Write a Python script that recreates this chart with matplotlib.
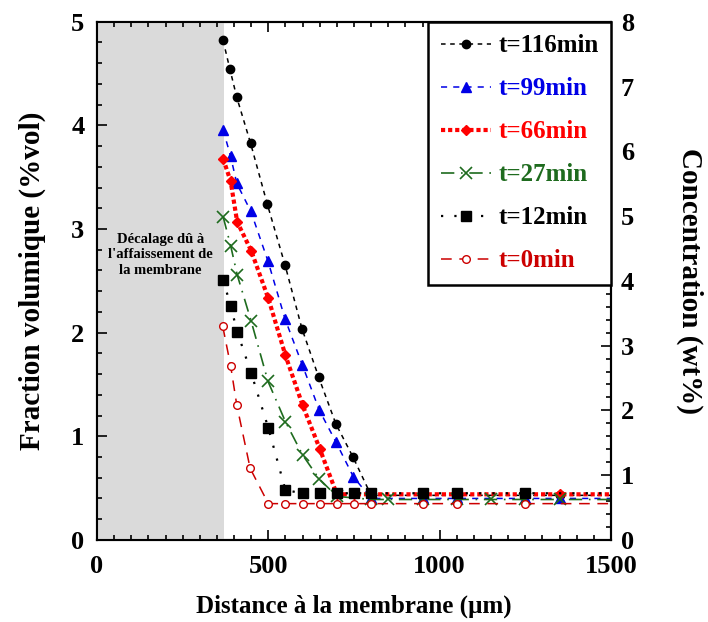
import matplotlib
matplotlib.use("Agg")
import matplotlib.pyplot as plt
from matplotlib.ticker import MultipleLocator

plt.rcParams["font.family"] = ["Liberation Serif", "DejaVu Serif"]
plt.rcParams["font.weight"] = "bold"

# Data (distance in um, fraction in %vol)
x_116 = [368, 388, 408, 448, 497, 549, 598, 647, 697, 747, 800, 950, 1050, 1250, 1350, 1550]
y_116 = [4.82, 4.54, 4.27, 3.83, 3.24, 2.65, 2.04, 1.57, 1.12, 0.80, 0.43, 0.43, 0.43, 0.43, 0.43, 0.43]

x_99 = [368, 390, 408, 449, 499, 549, 599, 649, 698, 748, 800, 950, 1050, 1250, 1350, 1550]
y_99 = [3.96, 3.70, 3.44, 3.17, 2.69, 2.13, 1.69, 1.25, 0.94, 0.61, 0.40, 0.40, 0.40, 0.40, 0.40, 0.40]

x_66 = [368, 390, 409, 450, 500, 550, 600, 650, 700, 750, 800, 950, 1050, 1250, 1350, 1550]
y_66 = [3.68, 3.46, 3.07, 2.79, 2.33, 1.78, 1.30, 0.88, 0.44, 0.44, 0.44, 0.44, 0.44, 0.44, 0.44, 0.44]

x_27 = [368, 390, 409, 450, 499, 550, 600, 648, 700, 800, 850, 950, 1050, 1150, 1250, 1350, 1550]
y_27 = [3.12, 2.84, 2.56, 2.11, 1.53, 1.14, 0.82, 0.59, 0.42, 0.39, 0.39, 0.39, 0.39, 0.39, 0.39, 0.39, 0.39]

x_12 = [368, 390, 409, 450, 500, 550, 600, 650, 700, 750, 800, 950, 1050, 1250, 1550]
y_12 = [2.51, 2.26, 2.01, 1.61, 1.08, 0.48, 0.45, 0.45, 0.45, 0.45, 0.45, 0.45, 0.45, 0.45, 0.45]

x_0 = [367, 390, 408, 447, 500, 550, 600, 650, 700, 750, 800, 950, 1050, 1250, 1550]
y_0 = [2.06, 1.68, 1.30, 0.69, 0.35, 0.35, 0.35, 0.35, 0.35, 0.35, 0.35, 0.35, 0.35, 0.35, 0.35]

shift_end = 370  # grey zone: membrane collapse offset

fig = plt.figure(figsize=(7.08, 6.22), dpi=100)
ax = fig.add_axes([0.137, 0.132, 0.726, 0.833])

ax.axvspan(0, shift_end, color="#dadada", zorder=0, lw=0)
ax.text(185, 2.75, "Décalage dû à\nl'affaissement de\nla membrane", ha="center", va="center",
        fontsize=10.5, fontweight="bold", linespacing=1.25)

ax.plot(x_116, y_116, color="black", ls=(0, (3, 3)), lw=1.1, marker="o", ms=6, label="t=116min")
ax.plot(x_99, y_99, color="#0000e6", ls=(0, (4, 4)), lw=1.1, marker="^", ms=7, label="t=99min")
ax.plot(x_66, y_66, color="#ff0000", ls=(0, (1, 0.7)), lw=3, marker="D", ms=5.5, label="t=66min")
ax.plot(x_27, y_27, color="#1e6b1e", ls=(0, (8, 4, 1, 4)), lw=1.2, marker="x", ms=9, mew=1.2, label="t=27min")
ax.plot(x_12, y_12, color="black", ls=(0, (1, 5)), lw=1.6, marker="s", ms=7, label="t=12min")
ax.plot(x_0, y_0, color="#cc0000", ls=(0, (7, 5)), lw=1.1, marker="o", ms=5.5, mfc="white", mew=1,
        label="t=0min")

ax.set_xlim(0, 1500)
ax.set_ylim(0, 5)
ax.xaxis.set_major_locator(MultipleLocator(500))
ax.xaxis.set_minor_locator(MultipleLocator(50))
ax.yaxis.set_major_locator(MultipleLocator(1))
ax.yaxis.set_minor_locator(MultipleLocator(0.2))
ax.tick_params(which="both", direction="in", top=True, bottom=True, labelsize=19, width=1.2)
ax.tick_params(which="major", length=7)
ax.tick_params(which="minor", length=3.5)
ax.tick_params(axis="x", which="major", pad=11)
ax.tick_params(axis="y", which="major", pad=9)
ax.set_xlabel("Distance à la membrane (µm)", fontsize=18, fontweight="bold", labelpad=12)
ax.set_ylabel("Fraction volumique (%vol)", fontsize=21, fontweight="bold", labelpad=18)

ax2 = ax.twinx()
ax2.set_ylim(0, 8)
ax2.yaxis.set_major_locator(MultipleLocator(1))
ax2.yaxis.set_minor_locator(MultipleLocator(0.2))
ax2.tick_params(which="both", direction="in", labelsize=19, width=1.2)
ax2.tick_params(which="major", length=7, pad=7)
ax2.tick_params(which="minor", length=3.5)
ax2.set_ylabel("Concentration (wt%)", fontsize=21, fontweight="bold", rotation=270, labelpad=50)

for a in (ax, ax2):
    for s in a.spines.values():
        s.set_linewidth(1.5)

leg = ax.legend(loc="upper right", borderaxespad=0, fontsize=18, handlelength=2.0,
                handletextpad=0.3, labelspacing=0.8, fancybox=False, framealpha=1,
                edgecolor="black", borderpad=0.5)
leg.get_frame().set_linewidth(1.8)
leg_colors = ["black", "#0000e6", "#ff0000", "#1e6b1e", "black", "#cc0000"]
for txt, c in zip(leg.get_texts(), leg_colors):
    txt.set_color(c)
    txt.set_fontweight("bold")
ax.set_zorder(ax2.get_zorder() + 1)
ax.patch.set_visible(False)

fig.savefig("out.png", dpi=100)
